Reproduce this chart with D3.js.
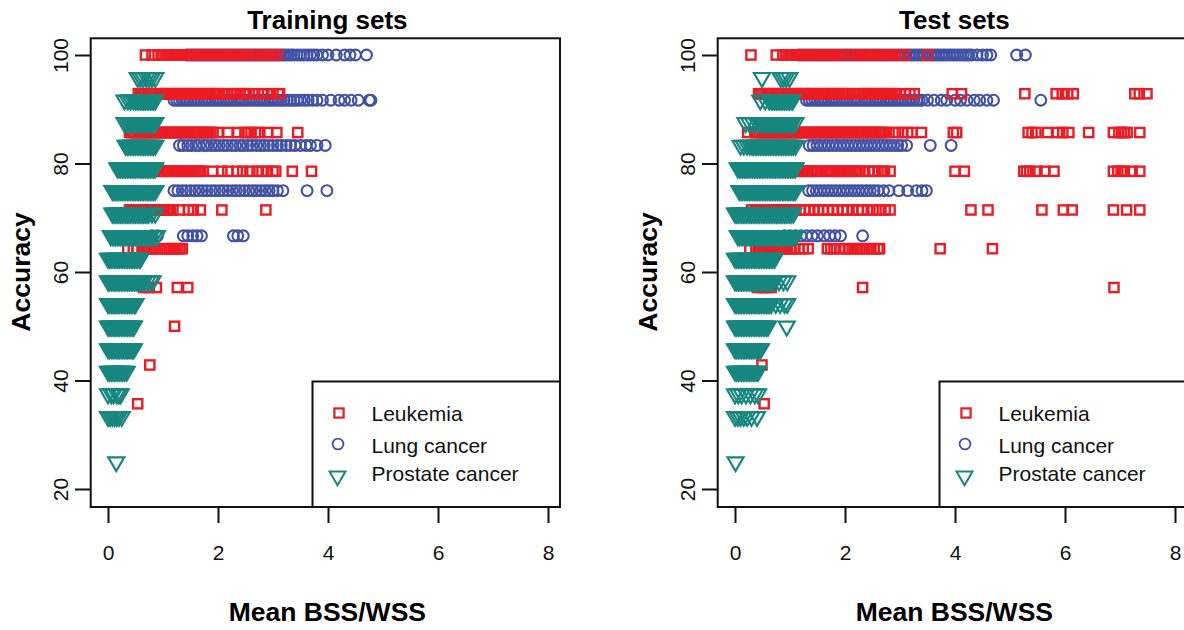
<!DOCTYPE html>
<html>
<head>
<meta charset="utf-8">
<script src="https://cdn.jsdelivr.net/npm/d3@7"></script>
<style>
  body { margin: 0; background: #fff; }
  svg { display: block; font-family: "Liberation Sans", Arial, sans-serif; }
</style>
</head>
<body>
<svg id="chart" width="1184" height="630"></svg>
<script>
// Accuracy (%) levels with the mean BSS/WSS values

const trainLeukemia = [
  { acc: 100, x: [0.68,0.8,0.91,1.0,1.04,1.08,1.12,1.16,1.2,1.24,1.28,1.31,1.35,1.39,1.43,1.47,1.5,1.54,1.58,1.62,1.66,1.7,1.73,1.77,1.81,1.85,1.89,1.93,1.96,2.0,2.04,2.08,2.12,2.16,2.2,2.24,2.28,2.32,2.36,2.4,2.44,2.5,2.56,2.62,2.7,2.78,2.84,2.9,2.96,3.02,3.08] },
  { acc: 92.86, x: [0.55,0.59,0.63,0.67,0.71,0.75,0.79,0.83,0.87,0.91,0.95,0.99,1.03,1.07,1.11,1.15,1.19,1.23,1.27,1.31,1.35,1.39,1.43,1.47,1.51,1.55,1.59,1.63,1.67,1.71,1.75,1.79,1.83,1.87,1.91,1.95,1.99,2.03,2.09,2.18,2.25,2.29,2.33,2.4,2.47,2.52,2.57,2.67,2.8,2.9,3.0,3.1,3.12] },
  { acc: 85.71, x: [0.39,0.43,0.47,0.51,0.55,0.59,0.63,0.67,0.71,0.75,0.79,0.83,0.87,0.91,0.95,0.99,1.03,1.07,1.11,1.15,1.19,1.23,1.27,1.31,1.35,1.39,1.43,1.47,1.51,1.55,1.59,1.63,1.67,1.71,1.75,1.79,1.83,1.87,1.91,2.0,2.18,2.36,2.49,2.55,2.6,2.68,2.76,2.9,3.07,3.45] },
  { acc: 78.57, x: [0.6,0.64,0.68,0.72,0.76,0.8,0.84,0.88,0.92,0.96,1.0,1.04,1.08,1.12,1.16,1.2,1.24,1.28,1.32,1.36,1.4,1.44,1.48,1.52,1.56,1.6,1.64,1.68,1.73,1.9,2.07,2.18,2.35,2.45,2.58,2.71,2.8,2.9,3.0,3.05,3.35,3.7] },
  { acc: 71.43, x: [0.39,0.43,0.47,0.51,0.55,0.59,0.63,0.67,0.71,0.75,0.79,0.83,0.87,0.91,0.95,0.99,1.03,1.07,1.1,1.18,1.3,1.46,1.55,1.68,2.07,2.87] },
  { acc: 64.29, x: [0.36,0.46,0.53,0.62,0.66,0.7,0.74,0.78,0.82,0.86,0.95,1.03,1.07,1.11,1.15,1.19,1.23,1.27,1.31,1.35] },
  { acc: 57.14, x: [0.65,0.75,0.88,1.26,1.45] },
  { acc: 50, x: [1.21] },
  { acc: 42.86, x: [0.76] },
  { acc: 35.71, x: [0.54] }
];

const trainLung = [
  { acc: 100, x: [1.43,1.47,1.51,1.55,1.59,1.63,1.67,1.71,1.75,1.79,1.83,1.87,1.91,1.95,1.99,2.03,2.07,2.11,2.15,2.19,2.23,2.27,2.31,2.35,2.39,2.43,2.47,2.51,2.55,2.59,2.63,2.67,2.71,2.75,2.79,2.83,2.87,2.91,2.95,2.99,3.03,3.07,3.11,3.15,3.19,3.23,3.28,3.33,3.38,3.44,3.5,3.56,3.62,3.68,3.74,3.8,3.9,4.0,4.15,4.3,4.4,4.5,4.7] },
  { acc: 91.67, x: [1.2,1.25,1.3,1.35,1.4,1.45,1.5,1.55,1.6,1.65,1.7,1.75,1.8,1.85,1.9,1.95,2.0,2.05,2.1,2.15,2.2,2.25,2.3,2.35,2.4,2.45,2.5,2.55,2.6,2.65,2.7,2.75,2.8,2.85,2.9,2.95,3.0,3.05,3.1,3.15,3.2,3.26,3.32,3.38,3.44,3.5,3.57,3.64,3.72,3.8,3.9,4.05,4.2,4.3,4.42,4.55,4.75,4.78] },
  { acc: 83.33, x: [1.3,1.37,1.45,1.52,1.6,1.66,1.74,1.8,1.88,1.95,2.02,2.1,2.17,2.25,2.32,2.4,2.46,2.54,2.62,2.7,2.77,2.84,2.92,3.0,3.08,3.15,3.24,3.32,3.4,3.5,3.6,3.68,3.8,3.95] },
  { acc: 75, x: [1.2,1.27,1.35,1.42,1.5,1.58,1.65,1.72,1.8,1.88,1.95,2.03,2.1,2.18,2.26,2.33,2.4,2.48,2.56,2.63,2.7,2.78,2.86,2.93,3.0,3.08,3.18,3.62,3.98] },
  { acc: 66.67, x: [0.8,0.9,1.37,1.45,1.54,1.62,1.7,2.28,2.36,2.46] }
];

const trainProstate = [
  { acc: 95.83, x: [0.54,0.59,0.64,0.7,0.75,0.8,0.86] },
  { acc: 91.67, x: [0.3,0.36,0.41,0.46,0.5,0.53,0.56,0.59,0.62,0.65,0.68,0.71,0.74,0.77,0.8,0.83,0.86] },
  { acc: 87.5, x: [0.3,0.34,0.38,0.41,0.44,0.47,0.5,0.53,0.56,0.59,0.62,0.65,0.68,0.71,0.74,0.77,0.8,0.83,0.86] },
  { acc: 83.33, x: [0.32,0.35,0.38,0.41,0.44,0.47,0.5,0.53,0.56,0.59,0.62,0.65,0.68,0.71,0.74,0.77,0.8,0.83,0.86] },
  { acc: 79.17, x: [0.17,0.2,0.23,0.26,0.29,0.32,0.35,0.38,0.41,0.44,0.47,0.5,0.53,0.56,0.59,0.62,0.65,0.68,0.71,0.74,0.77,0.8,0.83,0.86] },
  { acc: 75, x: [0.08,0.11,0.14,0.17,0.2,0.23,0.26,0.29,0.32,0.35,0.38,0.41,0.44,0.47,0.5,0.53,0.56,0.59,0.62,0.65,0.68,0.71,0.74,0.77,0.8,0.83,0.86] },
  { acc: 70.83, x: [0.08,0.11,0.14,0.17,0.2,0.23,0.26,0.29,0.32,0.35,0.38,0.41,0.44,0.47,0.5,0.53,0.56,0.59,0.62,0.65,0.68,0.71,0.74,0.8,0.86] },
  { acc: 66.67, x: [0.05,0.08,0.11,0.14,0.17,0.2,0.23,0.26,0.29,0.32,0.35,0.38,0.41,0.44,0.47,0.5,0.53,0.56,0.59,0.62,0.65,0.68,0.71,0.74,0.78,0.84,0.89] },
  { acc: 62.5, x: [0,0.03,0.06,0.09,0.12,0.15,0.18,0.21,0.24,0.27,0.3,0.33,0.36,0.39,0.42,0.45,0.48,0.51,0.54,0.57,0.59] },
  { acc: 58.33, x: [0,0.03,0.06,0.09,0.12,0.15,0.18,0.21,0.24,0.27,0.3,0.33,0.36,0.39,0.42,0.45,0.48,0.51,0.54,0.57,0.6,0.63,0.66,0.72,0.78,0.81] },
  { acc: 54.17, x: [0,0.03,0.06,0.09,0.12,0.15,0.18,0.21,0.24,0.27,0.3,0.33,0.36,0.39,0.42,0.45,0.48,0.5] },
  { acc: 50, x: [0,0.03,0.06,0.09,0.12,0.15,0.18,0.21,0.24,0.27,0.3,0.33,0.36,0.39,0.42,0.45,0.47] },
  { acc: 45.83, x: [0,0.03,0.06,0.09,0.12,0.15,0.18,0.21,0.24,0.27,0.3,0.33,0.36,0.39,0.42,0.45,0.47] },
  { acc: 41.67, x: [0,0.03,0.06,0.09,0.12,0.15,0.18,0.21,0.24,0.27,0.3,0.34] },
  { acc: 37.5, x: [0,0.06,0.1,0.16,0.2,0.23] },
  { acc: 33.33, x: [0,0.04,0.08,0.12,0.16,0.2,0.25] },
  { acc: 25, x: [0.15] }
];

const testLeukemia = [
  { acc: 100, x: [0.29,0.75,0.87,0.93,0.97,1.01,1.05,1.09,1.13,1.17,1.21,1.25,1.29,1.33,1.37,1.41,1.45,1.49,1.53,1.57,1.61,1.65,1.69,1.73,1.77,1.85,1.93,1.97,2.04,2.15,2.22,2.26,2.3,2.34,2.38,2.42,2.46,2.5,2.54,2.58,2.62,2.66,2.7,2.74,2.78,2.82,2.86,2.92,3.0,3.08,3.5] },
  { acc: 92.86, x: [0.43,0.47,0.51,0.55,0.59,0.63,0.67,0.71,0.75,0.79,0.83,0.87,0.91,0.95,0.99,1.03,1.07,1.11,1.15,1.19,1.23,1.27,1.31,1.35,1.39,1.43,1.47,1.51,1.55,1.59,1.63,1.67,1.71,1.75,1.79,1.83,1.87,1.91,1.95,1.99,2.03,2.07,2.15,2.23,2.27,2.31,2.35,2.39,2.43,2.47,2.51,2.55,2.59,2.63,2.67,2.71,2.75,2.79,2.83,2.87,2.91,3.0,3.1,3.18,3.26,3.95,4.12,5.27,5.84,5.95,6.05,6.15,7.27,7.35,7.49] },
  { acc: 85.71, x: [0.23,0.36,0.4,0.44,0.48,0.52,0.56,0.6,0.64,0.68,0.72,0.76,0.8,0.84,0.88,0.92,0.96,1.0,1.04,1.08,1.12,1.16,1.2,1.24,1.28,1.32,1.36,1.4,1.44,1.48,1.52,1.56,1.6,1.64,1.68,1.72,1.76,1.8,1.84,1.88,1.92,1.96,2.0,2.04,2.08,2.12,2.16,2.2,2.24,2.28,2.32,2.36,2.4,2.44,2.48,2.52,2.56,2.6,2.64,2.68,2.72,2.8,2.92,3.04,3.14,3.22,3.39,3.97,4.03,5.33,5.4,5.47,5.68,5.86,5.96,6.07,6.43,6.88,6.98,7.03,7.08,7.13,7.36] },
  { acc: 78.57, x: [0.9,0.94,0.98,1.02,1.06,1.1,1.14,1.18,1.22,1.26,1.3,1.34,1.38,1.42,1.46,1.5,1.58,1.66,1.7,1.74,1.78,1.82,1.86,1.9,1.94,1.98,2.02,2.06,2.1,2.14,2.18,2.22,2.26,2.36,2.44,2.5,2.6,2.68,2.72,2.82,4.0,4.17,5.25,5.3,5.36,5.49,5.63,5.8,6.88,6.96,7.02,7.08,7.22,7.36] },
  { acc: 71.43, x: [0.3,0.38,0.42,0.46,0.5,0.54,0.58,0.62,0.66,0.7,0.74,0.78,0.82,0.86,0.9,0.94,0.98,1.02,1.06,1.1,1.18,1.27,1.36,1.44,1.51,1.6,1.69,1.78,1.87,1.96,2.04,2.14,2.24,2.31,2.41,2.51,2.62,2.73,2.82,4.29,4.6,5.58,5.97,6.13,6.88,7.12,7.36] },
  { acc: 64.29, x: [0.27,0.38,0.42,0.46,0.5,0.54,0.58,0.62,0.66,0.7,0.74,0.78,0.82,0.86,0.9,0.95,1.02,1.09,1.17,1.24,1.33,1.68,1.74,1.8,1.91,2.0,2.06,2.13,2.2,2.27,2.33,2.4,2.47,2.53,2.6,2.63,3.73,4.68] },
  { acc: 57.14, x: [0.41,0.5,0.58,0.66,2.32,6.89] },
  { acc: 50, x: [0.42] },
  { acc: 42.86, x: [0.49] },
  { acc: 35.71, x: [0.53] }
];

const testLung = [
  { acc: 100, x: [1.15,1.2,1.25,1.3,1.35,1.4,1.45,1.5,1.55,1.6,1.65,1.7,1.75,1.8,1.85,1.9,1.95,2.0,2.05,2.1,2.15,2.2,2.25,2.3,2.35,2.4,2.45,2.5,2.55,2.6,2.65,2.7,2.75,2.8,2.85,2.9,2.95,3.0,3.05,3.1,3.15,3.2,3.25,3.3,3.35,3.4,3.45,3.5,3.55,3.6,3.65,3.7,3.75,3.8,3.85,3.9,3.95,4.0,4.05,4.1,4.15,4.2,4.25,4.3,4.4,4.5,4.58,4.65,5.12,5.28] },
  { acc: 91.67, x: [1.3,1.35,1.4,1.45,1.5,1.55,1.6,1.65,1.7,1.75,1.8,1.85,1.9,1.95,2.0,2.05,2.1,2.15,2.2,2.25,2.3,2.35,2.4,2.45,2.5,2.55,2.6,2.65,2.7,2.75,2.8,2.85,2.9,2.95,3.0,3.05,3.1,3.15,3.2,3.25,3.3,3.35,3.4,3.5,3.62,3.75,3.85,4.0,4.1,4.22,4.35,4.45,4.58,4.7,5.56] },
  { acc: 83.33, x: [1.35,1.42,1.49,1.56,1.63,1.7,1.77,1.84,1.91,1.98,2.05,2.12,2.19,2.26,2.33,2.4,2.47,2.54,2.61,2.68,2.75,2.82,2.89,2.96,3.03,3.12,3.55,3.93] },
  { acc: 75, x: [1.34,1.41,1.48,1.55,1.62,1.69,1.76,1.83,1.9,1.97,2.04,2.11,2.18,2.25,2.32,2.39,2.46,2.53,2.6,2.7,2.8,2.98,3.14,3.3,3.4,3.48] },
  { acc: 66.67, x: [0.9,1.0,1.1,1.2,1.3,1.4,1.5,1.62,1.72,1.82,1.92,2.32] }
];

const testProstate = [
  { acc: 95.83, x: [0.49,0.83,0.88,0.93,0.99] },
  { acc: 91.67, x: [0.46,0.55,0.62,0.66,0.69,0.72,0.75,0.78,0.81,0.84,0.87,0.9,0.93,0.96,0.99,1.02,1.05] },
  { acc: 87.5, x: [0.19,0.26,0.33,0.4,0.45,0.48,0.51,0.54,0.57,0.6,0.63,0.66,0.69,0.72,0.75,0.78,0.81,0.84,0.87,0.9,0.93,0.96,0.99,1.02,1.05,1.1] },
  { acc: 83.33, x: [0.1,0.16,0.22,0.27,0.31,0.34,0.37,0.4,0.43,0.46,0.49,0.52,0.55,0.58,0.61,0.64,0.67,0.7,0.73,0.76,0.79,0.82,0.85,0.88,0.91,0.94,0.97,1.0,1.03,1.06,1.1] },
  { acc: 79.17, x: [0.05,0.08,0.11,0.14,0.17,0.2,0.23,0.26,0.29,0.32,0.35,0.38,0.41,0.44,0.47,0.5,0.53,0.56,0.59,0.62,0.65,0.68,0.71,0.74,0.77,0.8,0.83,0.86,0.89,0.92,0.95,0.98,1.01,1.04,1.07,1.1] },
  { acc: 75, x: [0.08,0.11,0.14,0.17,0.2,0.23,0.26,0.29,0.32,0.35,0.38,0.41,0.44,0.47,0.5,0.53,0.56,0.59,0.62,0.65,0.68,0.71,0.74,0.77,0.8,0.83,0.86,0.89,0.92,0.95,0.98,1.01,1.04,1.07,1.1] },
  { acc: 70.83, x: [0,0.03,0.06,0.09,0.12,0.15,0.18,0.21,0.24,0.27,0.3,0.33,0.36,0.39,0.42,0.45,0.48,0.51,0.54,0.57,0.6,0.63,0.66,0.69,0.72,0.75,0.78,0.81,0.84,0.87,0.9,0.93,0.96,0.99,1.02,1.06] },
  { acc: 66.67, x: [0.05,0.08,0.11,0.14,0.17,0.2,0.23,0.26,0.29,0.32,0.35,0.38,0.41,0.44,0.47,0.5,0.53,0.56,0.59,0.62,0.65,0.68,0.71,0.74,0.77,0.8,0.83,0.86,0.89,0.92,0.95,0.98,1.01,1.04,1.07,1.1] },
  { acc: 62.5, x: [0,0.03,0.06,0.09,0.12,0.15,0.18,0.21,0.24,0.27,0.3,0.33,0.36,0.39,0.42,0.45,0.48,0.51,0.54,0.57,0.6,0.63,0.66,0.69,0.72] },
  { acc: 58.33, x: [0,0.03,0.06,0.09,0.12,0.15,0.18,0.21,0.24,0.27,0.3,0.33,0.36,0.39,0.42,0.45,0.48,0.51,0.54,0.57,0.6,0.63,0.66,0.69,0.72,0.8,0.88,0.95] },
  { acc: 54.17, x: [0,0.03,0.06,0.09,0.12,0.15,0.18,0.21,0.24,0.27,0.3,0.33,0.36,0.39,0.42,0.45,0.48,0.51,0.54,0.57,0.6,0.63,0.66,0.74,0.82,0.9,0.95] },
  { acc: 50, x: [0,0.03,0.06,0.09,0.12,0.15,0.18,0.21,0.24,0.27,0.3,0.33,0.36,0.39,0.42,0.45,0.48,0.51,0.54,0.57,0.6,0.94] },
  { acc: 45.83, x: [0,0.03,0.06,0.09,0.12,0.15,0.18,0.21,0.24,0.27,0.3,0.33,0.36,0.39,0.42,0.45,0.47] },
  { acc: 41.67, x: [0,0.03,0.06,0.09,0.12,0.15,0.18,0.21,0.24,0.27,0.3,0.33,0.36,0.39,0.42] },
  { acc: 37.5, x: [0,0.06,0.12,0.2,0.28,0.36,0.42] },
  { acc: 33.33, x: [0,0.05,0.1,0.16,0.22,0.3,0.4] },
  { acc: 25, x: [0.01] }
];

const xTicks = [0, 2, 4, 6, 8];
const yTicks = [20, 40, 60, 80, 100];
const legendLabels = ["Leukemia", "Lung cancer", "Prostate cancer"];

const colors = { leuk: "#ec1c24", lung: "#4152a6", pros: "#17877f" };
const trianglePath = "M-8,-4.6L8,-4.6L0,9.2Z";

const svg = d3.select("#chart");

function flat(rows) {
    return rows.flatMap(r => r.x.map(x => ({ acc: r.acc, x: x })));
}

// Function to draw one panel
function drawPanel(offset, title, leuk, lung, pros) {
    const box = { left: 90.7 + offset, right: 560 + offset, top: 38.3, bottom: 507 };

    const xScale = d3.scaleLinear().domain([0, 8]).range([108 + offset, 548 + offset]);
    const yScale = d3.scaleLinear().domain([20, 100]).range([489, 55]);

    const g = svg.append("g");

    // points: lung below, leukemia, then prostate on top
    g.append("g").selectAll("circle")
        .data(flat(lung))
        .enter()
        .append("circle")
        .attr("cx", d => xScale(d.x))
        .attr("cy", d => yScale(d.acc))
        .attr("r", 5.4)
        .attr("fill", "none")
        .attr("stroke", colors.lung)
        .attr("stroke-width", 2.1);

    g.append("g").selectAll("rect")
        .data(flat(leuk))
        .enter()
        .append("rect")
        .attr("x", d => xScale(d.x) - 4.6)
        .attr("y", d => yScale(d.acc) - 4.6)
        .attr("width", 9.2)
        .attr("height", 9.2)
        .attr("fill", "none")
        .attr("stroke", colors.leuk)
        .attr("stroke-width", 2.4);

    g.append("g").selectAll("path")
        .data(flat(pros))
        .enter()
        .append("path")
        .attr("d", trianglePath)
        .attr("transform", d => `translate(${xScale(d.x)},${yScale(d.acc)})`)
        .attr("fill", "none")
        .attr("stroke", colors.pros)
        .attr("stroke-width", 2.2)
        .attr("stroke-linejoin", "miter");

    // axes
    const xAxis = g.append("g")
        .attr("transform", `translate(0, ${box.bottom})`)
        .call(d3.axisBottom(xScale).tickValues(xTicks).tickSize(16).tickFormat(d3.format("d")));
    xAxis.select(".domain").remove();
    xAxis.selectAll("line").attr("stroke", "#111").attr("stroke-width", 2);
    xAxis.selectAll("text")
        .attr("y", 52.5).attr("dy", 0)
        .attr("fill", "#111")
        .style("font-size", "21px")
        .style("font-family", "'Liberation Sans', Arial, sans-serif");

    const yAxis = g.append("g")
        .attr("transform", `translate(${box.left}, 0)`)
        .call(d3.axisLeft(yScale).tickValues(yTicks).tickSize(15.7).tickFormat(d3.format("d")));
    yAxis.select(".domain").remove();
    yAxis.selectAll("line").attr("stroke", "#111").attr("stroke-width", 2);
    yAxis.selectAll("text")
        .attr("x", 0).attr("y", 0).attr("dy", 0)
        .attr("text-anchor", "middle")
        .attr("transform", "translate(-23.2,0) rotate(-90)")
        .attr("fill", "#111")
        .style("font-size", "21px")
        .style("font-family", "'Liberation Sans', Arial, sans-serif");

    // frame
    g.append("rect")
        .attr("x", box.left).attr("y", box.top)
        .attr("width", box.right - box.left).attr("height", box.bottom - box.top)
        .attr("fill", "none").attr("stroke", "#111").attr("stroke-width", 2);

    // legend
    const lg = g.append("g");
    lg.append("rect")
        .attr("x", 312.5 + offset).attr("y", 381.5)
        .attr("width", box.right - 312.5 - offset).attr("height", box.bottom - 381.5)
        .attr("fill", "#fff").attr("stroke", "#111").attr("stroke-width", 2);

    const lx = 339 + offset;
    lg.append("rect").attr("x", lx - 4.6).attr("y", 413 - 4.6).attr("width", 9.2).attr("height", 9.2)
        .attr("fill", "none").attr("stroke", colors.leuk).attr("stroke-width", 2.2);
    lg.append("circle").attr("cx", lx - 1).attr("cy", 444).attr("r", 5.4)
        .attr("fill", "none").attr("stroke", colors.lung).attr("stroke-width", 1.8);
    lg.append("path").attr("d", trianglePath).attr("transform", `translate(${lx - 1.5},476)`)
        .attr("fill", "none").attr("stroke", colors.pros).attr("stroke-width", 2);

    const textY = [420.7, 452.7, 480.7];
    lg.selectAll("text.lab")
        .data(legendLabels)
        .enter()
        .append("text")
        .attr("class", "lab")
        .attr("x", 371.5 + offset)
        .attr("y", (d, i) => textY[i])
        .style("font-size", "21px")
        .attr("fill", "#111")
        .text(d => d);

    // titles
    const cx = (box.left + box.right) / 2 + 2;
    g.append("text")
        .attr("x", cx).attr("y", 29)
        .attr("text-anchor", "middle")
        .style("font-size", "26px").style("font-weight", "bold")
        .text(title);

    g.append("text")
        .attr("x", cx).attr("y", 621)
        .attr("text-anchor", "middle")
        .style("font-size", "26.5px").style("font-weight", "bold")
        .text("Mean BSS/WSS");

    g.append("text")
        .attr("text-anchor", "middle")
        .attr("transform", `translate(${30 + offset}, 272) rotate(-90)`)
        .style("font-size", "26.5px").style("font-weight", "bold")
        .text("Accuracy");
}

drawPanel(0, "Training sets", trainLeukemia, trainLung, trainProstate);
drawPanel(627, "Test sets", testLeukemia, testLung, testProstate);
</script>
</body>
</html>
